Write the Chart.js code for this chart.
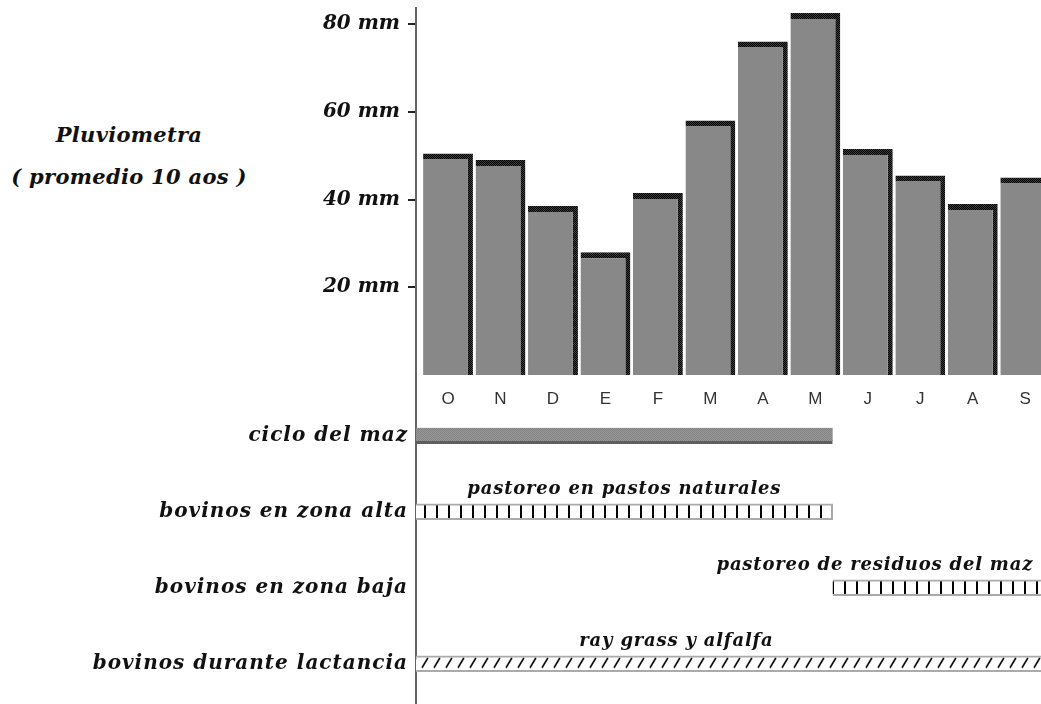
<!DOCTYPE html>
<html>
<head>
<meta charset="utf-8">
<script src="https://cdn.jsdelivr.net/npm/chart.js@4/dist/chart.umd.min.js"></script>
<style>
body { margin: 0; background: #fff; }
#wrap { position: relative; width: 1041px; height: 704px; overflow: hidden; }
#rain { position: absolute; left: 0; top: 0; }
#cycle { position: absolute; left: 0; top: 375px; }
.title { position: absolute; left: 0; width: 258px; text-align: center; font: italic bold 21px "DejaVu Serif"; color: #111; line-height: 30px; letter-spacing: 0.3px; }
</style>
</head>
<body>
<div id="wrap">
    <div class="title" style="top:120px">Pluviometra</div>
    <div class="title" style="top:162px">( promedio 10 aos )</div>
    <canvas id="rain" width="1041" height="415"></canvas>
    <canvas id="cycle" width="1041" height="329"></canvas>
</div>
<script>
// rainfall per month (mm), Oct -> Sep
var months = ['O', 'N', 'D', 'E', 'F', 'M', 'A', 'M', 'J', 'J', 'A', 'S'];
var rainfall = [50.5, 49, 38.5, 28, 41.5, 58, 76, 82.5, 51.5, 45.5, 39, 45];
var mmTicks = [20, 40, 60, 80];

// activities calendar, in months counted from October
var activities = ['ciclo del maz', 'bovinos en zona alta', 'bovinos en zona baja', 'bovinos durante lactancia'];
var activityStart = [0, 0, 8, 0];
var activityEnd = [8, 8, 12, 12];
var activityNotes = ['', 'pastoreo en pastos naturales', 'pastoreo de residuos del maz', 'ray grass y alfalfa'];

var scriptFont = { family: 'DejaVu Serif', style: 'italic', weight: 'bold', size: 20 };

function makePattern(w, h, draw) {
    var c = document.createElement('canvas');
    c.width = w;
    c.height = h;
    var g = c.getContext('2d');
    draw(g, w, h);
    return g.createPattern(c, 'repeat');
}

function checker(a, b) {
    return makePattern(2, 2, function (g) {
        g.fillStyle = a; g.fillRect(0, 0, 2, 2);
        g.fillStyle = b; g.fillRect(1, 0, 1, 1); g.fillRect(0, 1, 1, 1);
    });
}

function vLines() {
    return makePattern(12, 20, function (g, w, h) {
        g.fillStyle = '#fff'; g.fillRect(0, 0, w, h);
        g.fillStyle = '#000'; g.fillRect(4, 0, 2, h);
    });
}

function slashes() {
    return makePattern(12, 14, function (g, w, h) {
        g.fillStyle = '#fff'; g.fillRect(0, 0, w, h);
        g.strokeStyle = '#000'; g.lineWidth = 1.5;
        g.beginPath(); g.moveTo(2, 12); g.lineTo(8, 2); g.stroke();
    });
}

// wider lettering, closer to the script face of the original
function spacing(px) {
    return {
        id: 'spacing',
        beforeDraw: function (chart) { chart.ctx.letterSpacing = px; }
    };
}

function noPad(scale) {
    scale.paddingTop = 0;
    scale.paddingBottom = 0;
}

var rainCtx = document.getElementById('rain').getContext('2d');
var rainChart = new Chart(rainCtx, {
    type: 'bar',
    data: {
        datasets: [
            {
                label: 'mm',
                data: rainfall.map(function (v, i) { return { x: i, y: v }; }),
                backgroundColor: '#888888',
                borderColor: checker('#000000', '#3c3c3c'),
                borderWidth: { top: 6, right: 5, left: 0, bottom: 0 },
                borderSkipped: false,
                barPercentage: 0.95,
                categoryPercentage: 1
            }
        ]
    },
    plugins: [spacing('0px')],
    options: {
        responsive: false,
        animation: false,
        layout: { padding: { top: 8, right: 0, left: 0, bottom: 0 } },
        plugins: { legend: { display: false }, tooltip: { enabled: false } },
        scales: {
            x: {
                type: 'linear',
                offset: false,
                min: -0.61,
                max: 11.3,
                afterBuildTicks: function (scale) {
                    scale.ticks = months.map(function (m, i) { return { value: i }; });
                },
                afterFit: function (scale) { scale.height = 40; },
                grid: { display: false },
                border: { display: false },
                ticks: {
                    padding: 6,
                    color: '#333',
                    font: { family: 'Liberation Sans', size: 17 },
                    callback: function (v) { return months[v]; }
                }
            },
            y: {
                min: 0,
                max: 83.65,
                afterBuildTicks: function (scale) {
                    scale.ticks = mmTicks.map(function (v) { return { value: v }; });
                },
                afterFit: function (scale) { scale.width = 416; noPad(scale); },
                grid: { drawOnChartArea: false, tickLength: 8, color: '#222', lineWidth: 2 },
                border: { color: '#666', width: 2, dash: [3, 1] },
                ticks: {
                    padding: 8,
                    color: '#111',
                    font: scriptFont,
                    callback: function (v) { return v + ' mm'; }
                }
            }
        }
    }
});

var cycleFills = [checker('#7c7c7c', '#a0a0a0'), vLines(), vLines(), slashes()];

var notesPlugin = {
    id: 'notes',
    beforeDatasetsDraw: function (chart) {
        var meta = chart.getDatasetMeta(0);
        meta.data.forEach(function (el, i) {
            var top = el.y - el.height / 2;
            cycleFills[i].setTransform(new DOMMatrix([1, 0, 0, 1, 0, top]));
        });
    },
    afterDatasetsDraw: function (chart, args, opts) {
        var ctx = chart.ctx;
        var meta = chart.getDatasetMeta(0);
        var xs = chart.scales.x;
        ctx.save();
        ctx.font = 'italic bold 18px "DejaVu Serif"';
        ctx.letterSpacing = '0.8px';
        ctx.fillStyle = '#111';
        ctx.textBaseline = 'middle';
        meta.data.forEach(function (el, i) {
            if (!activityNotes[i]) return;
            ctx.textAlign = opts.align[i];
            ctx.fillText(activityNotes[i], xs.getPixelForValue(opts.at[i]), el.y - 22);
        });
        ctx.restore();
    }
};

var cycleCtx = document.getElementById('cycle').getContext('2d');
var cycleChart = new Chart(cycleCtx, {
    type: 'bar',
    data: {
        datasets: [
            {
                label: 'actividades',
                data: activities.map(function (a, i) { return { x: [activityStart[i], activityEnd[i]], y: i }; }),
                backgroundColor: cycleFills,
                borderColor: ['#5e5e5e', '#aaaaaa', '#aaaaaa', '#aaaaaa'],
                borderWidth: [
                    { top: 0, bottom: 3, left: 0, right: 0 },
                    { top: 2, bottom: 2, left: 0, right: 2 },
                    { top: 2, bottom: 2, left: 0, right: 0 },
                    { top: 2, bottom: 2, left: 0, right: 0 }
                ],
                borderSkipped: false,
                barThickness: 16
            }
        ]
    },
    plugins: [spacing('1px'), notesPlugin],
    options: {
        responsive: false,
        animation: false,
        indexAxis: 'y',
        layout: { padding: 0 },
        plugins: {
            legend: { display: false },
            tooltip: { enabled: false },
            notes: { at: [0, 4, 11.85, 5], align: ['center', 'center', 'right', 'center'] }
        },
        scales: {
            x: { type: 'linear', min: 0, max: 12, display: false },
            y: {
                type: 'linear',
                offset: false,
                reverse: true,
                min: -0.8,
                max: 3.53,
                afterBuildTicks: function (scale) {
                    scale.ticks = activities.map(function (a, i) { return { value: i }; });
                },
                afterFit: function (scale) { scale.width = 416; noPad(scale); },
                grid: { drawOnChartArea: false, drawTicks: false },
                border: { color: '#666', width: 2, dash: [3, 1] },
                ticks: {
                    padding: 8,
                    color: '#111',
                    font: scriptFont,
                    callback: function (v) { return activities[v]; }
                }
            }
        }
    }
});
</script>
</body>
</html>
